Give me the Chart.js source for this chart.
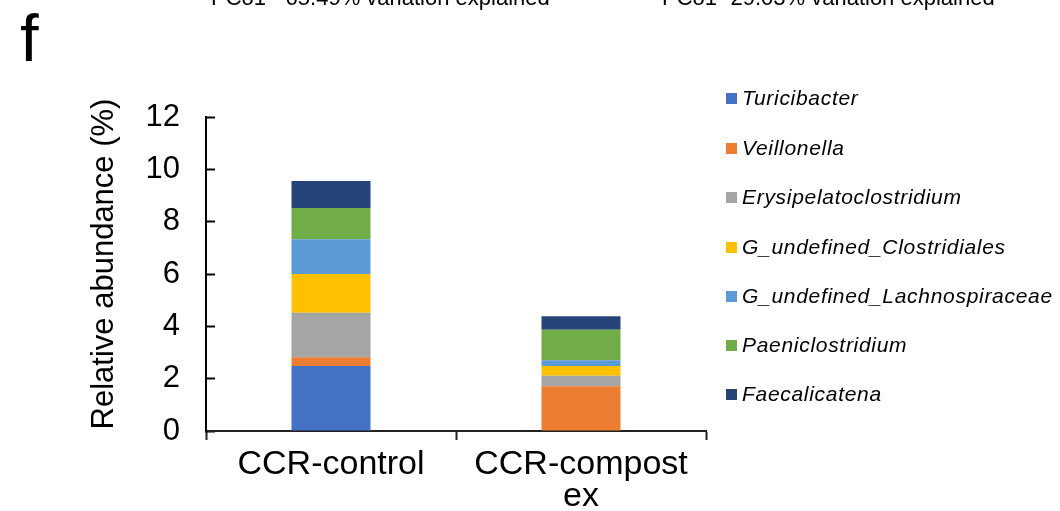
<!DOCTYPE html>
<html>
<head>
<meta charset="utf-8">
<script src="https://cdn.jsdelivr.net/npm/chart.js@4.4.1/dist/chart.umd.min.js"></script>
<style>
  html, body { margin: 0; padding: 0; background: #fff; }
  #wrap { position: relative; width: 1060px; height: 511px; }
</style>
</head>
<body>
<div id="wrap"><canvas id="abundance-chart" width="1060" height="511"></canvas></div>
<script>
const groups = [["CCR-control"], ["CCR-compost", "ex"]];
const genera = [
  "Turicibacter",
  "Veillonella",
  "Erysipelatoclostridium",
  "G_undefined_Clostridiales",
  "G_undefined_Lachnospiraceae",
  "Paeniclostridium",
  "Faecalicatena"
];
const turicibacter = [2.48, 0];
const veillonella = [0.34, 1.71];
const erysipelatoclostridium = [1.70, 0.40];
const gClostridiales = [1.48, 0.37];
const gLachnospiraceae = [1.33, 0.22];
const paeniclostridium = [1.19, 1.17];
const faecalicatena = [1.03, 0.52];
const yTicks = [0, 2, 4, 6, 8, 10, 12];
const yTitle = "Relative abundance (%)";
const pcoLabels = ["PCo1 - 65.49% variation explained", "PCo1 -29.03% variation explained"];

const colors = ["#4472C4", "#ED7D31", "#A5A5A5", "#FFC000", "#5B9BD5", "#70AD47", "#264478"];
const series = [turicibacter, veillonella, erysipelatoclostridium, gClostridiales,
  gLachnospiraceae, paeniclostridium, faecalicatena];

const FONT = "'Liberation Sans', Arial, Helvetica, sans-serif";

// panel letter, clipped captions above, y title and the legend column on the right
const extras = {
  id: "extras",
  afterDraw(chart) {
    const ctx = chart.ctx;
    ctx.save();
    ctx.fillStyle = "#000";
    ctx.textBaseline = "alphabetic";
    ctx.textAlign = "left";
    ctx.font = "67px " + FONT;
    ctx.fillText("f", 20, 61);

    ctx.font = "22px " + FONT;
    ctx.fillText(pcoLabels[0], 211, 5);
    ctx.fillText(pcoLabels[1], 662, 5);

    // y axis title sits a little above the plot's middle
    ctx.save();
    ctx.translate(104, 264);
    ctx.rotate(-Math.PI / 2);
    ctx.textAlign = "center";
    ctx.textBaseline = "middle";
    ctx.font = "31px " + FONT;
    ctx.fillText(yTitle, 0, 0);
    ctx.restore();

    const rowY = [98, 148, 197, 247, 296, 345, 394];
    ctx.font = "italic 21px " + FONT;
    ctx.letterSpacing = "0.7px";
    ctx.textBaseline = "middle";
    chart.data.datasets.forEach((ds, i) => {
      ctx.fillStyle = ds.backgroundColor;
      ctx.fillRect(726, rowY[i] - 5, 11, 11);
      ctx.fillStyle = "#000";
      ctx.fillText(ds.label, 742, rowY[i] + 1);
    });
    ctx.restore();
  }
};

new Chart("abundance-chart", {
  type: "bar",
  data: {
    labels: groups,
    datasets: genera.map((name, i) => ({
      label: name,
      data: series[i],
      backgroundColor: colors[i],
      borderWidth: 0,
      barPercentage: 0.316,
      categoryPercentage: 1.0
    }))
  },
  options: {
    responsive: false,
    animation: false,
    layout: { padding: { left: 0, right: 354, top: 117, bottom: 0 } },
    plugins: {
      legend: { display: false },
      tooltip: { enabled: false }
    },
    scales: {
      x: {
        stacked: true,
        afterFit: (scale) => { scale.height = 80; },
        border: { display: true, color: "#222", width: 2 },
        grid: {
          offset: true,
          drawOnChartArea: false,
          drawTicks: true,
          tickLength: 9,
          tickColor: "#222",
          tickWidth: 2
        },
        ticks: {
          color: "#000",
          padding: 9,
          font: { family: FONT, size: 34, lineHeight: 0.93 }
        }
      },
      y: {
        stacked: true,
        min: 0,
        max: 12,
        afterFit: (scale) => { scale.width = 206; },
        afterBuildTicks: (scale) => { scale.ticks = yTicks.map(v => ({ value: v })); },
        border: { display: true, color: "#000", width: 2 },
        grid: {
          drawOnChartArea: false,
          drawTicks: true,
          tickLength: -9,
          tickColor: "#000",
          tickWidth: 2
        },
        ticks: {
          color: "#000",
          padding: 35,
          font: { family: FONT, size: 31 }
        },
        title: { display: false }
      }
    }
  },
  plugins: [extras]
});
</script>
</body>
</html>
